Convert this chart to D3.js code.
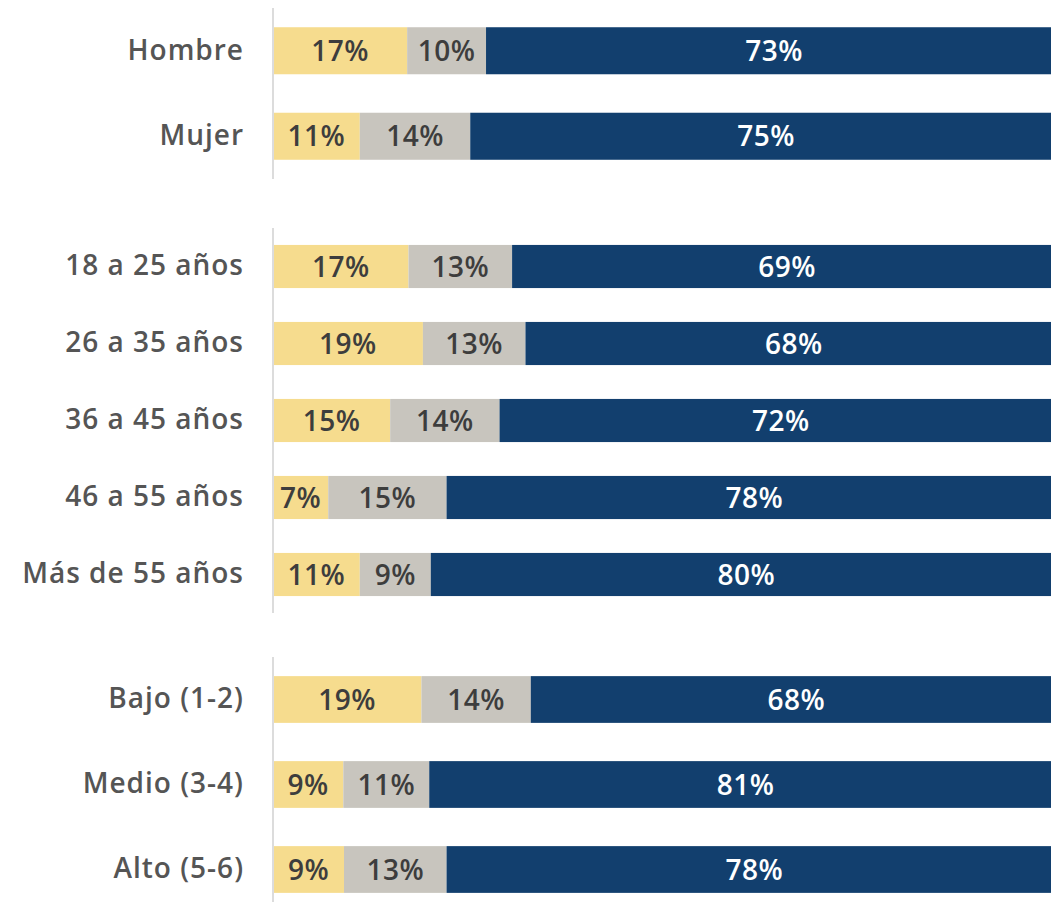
<!DOCTYPE html>
<html>
<head>
<meta charset="utf-8">
<script src="https://cdn.jsdelivr.net/npm/d3@7"></script>
<style>
  html, body { margin: 0; padding: 0; background: #fff; overflow: hidden; }
  svg { display: block; }
</style>
</head>
<body>
<svg id="chart" width="1051" height="902"></svg>
<script>
// ---- data ----
const groupSexo = ["Hombre", "Mujer"];
const groupEdad = ["18 a 25 años", "26 a 35 años", "36 a 45 años", "46 a 55 años", "Más de 55 años"];
const groupNivel = ["Bajo (1-2)", "Medio (3-4)", "Alto (5-6)"];

const seriesKeys = ["a", "b", "c"];
const valuesA = { "Hombre": 17, "Mujer": 11, "18 a 25 años": 17, "26 a 35 años": 19, "36 a 45 años": 15, "46 a 55 años": 7, "Más de 55 años": 11, "Bajo (1-2)": 19, "Medio (3-4)": 9, "Alto (5-6)": 9 };
const valuesB = { "Hombre": 10, "Mujer": 14, "18 a 25 años": 13, "26 a 35 años": 13, "36 a 45 años": 14, "46 a 55 años": 15, "Más de 55 años": 9, "Bajo (1-2)": 14, "Medio (3-4)": 11, "Alto (5-6)": 13 };
const valuesC = { "Hombre": 73, "Mujer": 75, "18 a 25 años": 69, "26 a 35 años": 68, "36 a 45 años": 72, "46 a 55 años": 78, "Más de 55 años": 80, "Bajo (1-2)": 68, "Medio (3-4)": 81, "Alto (5-6)": 78 };

// ---- layout ----
const svg = d3.select("#chart");
const x0 = 273, x1 = 1062;
const x = d3.scaleLinear().domain([0, 1]).range([x0, x1]);
const color = d3.scaleOrdinal().domain(seriesKeys).range(["#F6DC8E", "#C8C5BE", "#123F6E"]);
const textColor = d3.scaleOrdinal().domain(seriesKeys).range(["#3d3d3d", "#3d3d3d", "#ffffff"]);

const panels = [
  { cats: groupSexo, top: 8, bottom: 179, pad: 0.45 },
  { cats: groupEdad, top: 228, bottom: 613, pad: 0.44 },
  { cats: groupNivel, top: 657, bottom: 912, pad: 0.45 }
];

const stack = d3.stack().keys(seriesKeys).offset(d3.stackOffsetExpand);
const font = "'Open Sans', 'Noto Sans', sans-serif";

panels.forEach(p => {
  const rows = p.cats.map(c => ({ cat: c, a: valuesA[c], b: valuesB[c], c: valuesC[c] }));
  const y = d3.scaleBand().domain(p.cats).range([p.top, p.bottom])
    .paddingInner(p.pad).paddingOuter(p.pad / 2);
  const g = svg.append("g");
  const stacked = stack(rows);

  const layers = g.selectAll("g.layer").data(stacked).join("g").attr("class", "layer");
  layers.selectAll("rect").data(s => s.map(d => ({ key: s.key, d })))
    .join("rect")
    .attr("x", o => x(o.d[0]))
    .attr("width", o => x(o.d[1]) - x(o.d[0]))
    .attr("y", o => y(o.d.data.cat))
    .attr("height", y.bandwidth())
    .attr("fill", o => color(o.key));

  layers.selectAll("text").data(s => s.map(d => ({ key: s.key, d })))
    .join("text")
    .attr("x", o => (x(o.d[0]) + x(o.d[1])) / 2)
    .attr("y", o => y(o.d.data.cat) + y.bandwidth() / 2)
    .attr("dy", "0.36em")
    .attr("text-anchor", "middle")
    .attr("font-family", font)
    .attr("font-weight", 600)
    .attr("font-size", 28)
    .attr("letter-spacing", "0.5px")
    .attr("fill", o => textColor(o.key))
    .text(o => o.d.data[o.key] + "%");

  // category axis
  const axis = d3.axisLeft(y).tickSize(0).tickPadding(29);
  const ag = g.append("g").attr("transform", `translate(${x0},0)`).call(axis);
  ag.select(".domain").attr("stroke", "#dcdcdc").attr("stroke-width", 2)
    .attr("d", `M0,${p.top}V${p.bottom}`);
  ag.selectAll(".tick text")
    .attr("font-family", font)
    .attr("font-weight", 600)
    .attr("font-size", 28)
    .attr("letter-spacing", "1px")
    .attr("fill", "#555555");
});
</script>
</body>
</html>
